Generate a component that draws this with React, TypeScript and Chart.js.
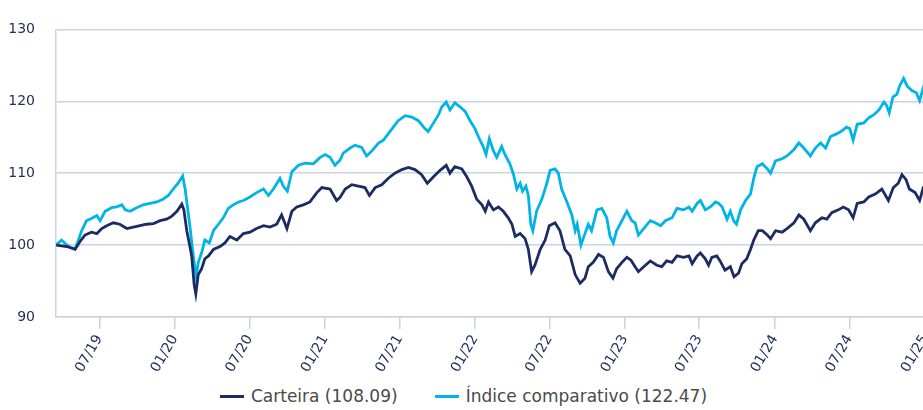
import React, { useEffect, useRef } from "react";
import { Chart, registerables } from "chart.js";

Chart.register(...registerables);

// x values are days since 2019-01-01
const tickDays = [181, 365, 547, 731, 912, 1096, 1277, 1461, 1642, 1826, 2008, 2192];
const tickLabels = ["07/19", "01/20", "07/20", "01/21", "07/21", "01/22", "07/22", "01/23", "07/23", "01/24", "07/24", "01/25"];
const yTicks = [90, 100, 110, 120, 130];

const carteiraDays = [
  76, 102, 122, 134, 146, 162, 175, 187, 199, 215,
  231, 248, 264, 280, 296, 313, 329, 345, 357, 370,
  382, 387, 394, 400, 406, 412, 416, 422, 430, 438,
  447, 459, 475, 487, 499, 516, 532, 548, 564, 581,
  597, 613, 625, 638, 650, 662, 678, 694, 711, 723,
  743, 759, 767, 780, 796, 812, 828, 839, 853, 869,
  885, 901, 918, 934, 950, 966, 980, 995, 1011, 1026,
  1035, 1047, 1064, 1076, 1088, 1100, 1113, 1121, 1129, 1141,
  1153, 1165, 1177, 1186, 1194, 1206, 1218, 1226, 1234, 1242,
  1255, 1267, 1277, 1291, 1303, 1315, 1328, 1340, 1352, 1364,
  1372, 1384, 1397, 1409, 1421, 1432, 1441, 1454, 1466, 1476,
  1486, 1494, 1507, 1523, 1539, 1551, 1563, 1576, 1588, 1604,
  1617, 1625, 1637, 1645, 1657, 1665, 1673, 1685, 1693, 1705,
  1718, 1727, 1738, 1746, 1758, 1767, 1775, 1786, 1796, 1808,
  1816, 1828, 1844, 1856, 1873, 1885, 1897, 1913, 1925, 1941,
  1953, 1965, 1981, 1993, 2006, 2017, 2027, 2043, 2055, 2071,
  2087, 2103, 2115, 2127, 2136, 2146, 2154, 2168, 2179, 2188,
  2191,
];
const carteiraValues = [
  100.0, 99.8, 99.4, 100.5, 101.4, 101.8, 101.6, 102.3, 102.7, 103.1,
  102.9, 102.3, 102.5, 102.7, 102.9, 103.0, 103.4, 103.6, 104.0, 104.7,
  105.7, 104.9, 102.0, 100.3, 98.5, 94.5, 93.2, 95.9, 96.7, 98.1,
  98.5, 99.4, 99.8, 100.3, 101.2, 100.7, 101.6, 101.8, 102.3, 102.7,
  102.5, 102.9, 104.2, 102.3, 104.7, 105.3, 105.6, 106.0, 107.3, 108.0,
  107.8, 106.2, 106.6, 107.8, 108.4, 108.2, 108.0, 106.9, 108.0, 108.4,
  109.3, 110.0, 110.5, 110.8, 110.5, 109.8, 108.6, 109.5, 110.4, 111.1,
  110.0, 110.9, 110.6, 109.5, 108.2, 106.4, 105.6, 104.7, 106.0, 104.9,
  105.3, 104.7, 103.8, 102.9, 101.2, 101.6, 100.9, 99.4, 96.3, 97.2,
  99.4, 100.7, 102.7, 103.1, 102.0, 99.4, 98.5, 95.9, 94.7, 95.4,
  97.0, 97.6, 98.7, 98.3, 96.3, 95.4, 96.7, 97.6, 98.3, 97.9,
  97.0, 96.3, 97.0, 97.8, 97.2, 97.0, 97.8, 97.6, 98.5, 98.3,
  98.5, 97.4, 98.5, 98.9, 98.1, 97.2, 98.3, 98.5, 97.8, 96.5,
  97.0, 95.6, 96.1, 97.4, 98.1, 99.4, 100.7, 102.0, 102.0, 101.4,
  100.9, 102.0, 101.8, 102.3, 103.1, 104.2, 103.6, 102.0, 103.1, 103.8,
  103.6, 104.5, 104.9, 105.3, 104.9, 103.8, 105.8, 106.0, 106.7, 107.1,
  107.8, 106.2, 108.0, 108.6, 109.8, 109.1, 107.8, 107.3, 106.2, 108.0,
  108.09,
];

const indiceDays = [
  76, 89, 102, 110, 122, 130, 138, 150, 162, 175,
  183, 195, 211, 223, 236, 244, 256, 272, 288, 304,
  321, 337, 349, 361, 373, 384, 390, 395, 402, 408,
  414, 417, 422, 430, 438, 449, 459, 471, 483, 495,
  507, 520, 532, 548, 564, 581, 593, 605, 621, 629,
  639, 650, 666, 682, 702, 719, 731, 743, 755, 767,
  775, 792, 804, 820, 832, 845, 861, 873, 885, 897,
  909, 926, 942, 958, 974, 982, 995, 1007, 1015, 1026,
  1035, 1047, 1060, 1072, 1084, 1096, 1104, 1116, 1123, 1131,
  1141, 1149, 1161, 1169, 1181, 1190, 1198, 1206, 1212, 1220,
  1226, 1232, 1237, 1246, 1259, 1271, 1279, 1291, 1299, 1307,
  1320, 1332, 1340, 1345, 1354, 1364, 1372, 1380, 1393, 1405,
  1417, 1425, 1433, 1441, 1454, 1466, 1478, 1486, 1494, 1507,
  1523, 1535, 1548, 1560, 1576, 1588, 1604, 1617, 1625, 1637,
  1645, 1657, 1669, 1682, 1690, 1698, 1710, 1718, 1726, 1733,
  1743, 1755, 1767, 1775, 1783, 1796, 1808, 1816, 1828, 1844,
  1856, 1873, 1885, 1897, 1913, 1925, 1938, 1950, 1962, 1978,
  1990, 2001, 2009, 2017, 2027, 2043, 2055, 2067, 2080, 2092,
  2098, 2105, 2114, 2124, 2130, 2140, 2149, 2160, 2171, 2179,
  2188, 2191,
];
const indiceValues = [
  100.0, 100.7, 100.0, 99.7, 99.5, 100.7, 102.0, 103.4, 103.7, 104.1,
  103.4, 104.7, 105.2, 105.3, 105.6, 104.9, 104.7, 105.2, 105.6, 105.8,
  106.0, 106.4, 106.9, 107.8, 108.6, 109.6, 107.8, 105.6, 102.5, 99.4,
  96.7, 95.6, 97.6, 98.9, 100.7, 100.3, 102.0, 102.9, 103.8, 105.1,
  105.6, 106.0, 106.2, 106.7, 107.3, 107.8, 106.9, 107.8, 109.3, 108.2,
  107.5, 110.2, 111.1, 111.4, 111.3, 112.2, 112.6, 112.2, 111.1, 111.8,
  112.8, 113.5, 113.9, 113.6, 112.4, 113.1, 114.2, 114.6, 115.5, 116.4,
  117.3, 118.0, 117.8, 117.3, 116.2, 115.8, 117.0, 118.1, 119.2, 119.9,
  118.8, 119.8, 119.2, 118.6, 117.3, 116.2, 115.1, 113.7, 112.6, 114.8,
  113.1, 112.2, 113.7, 112.6, 111.3, 109.8, 107.8, 108.6, 107.5, 108.2,
  106.9, 102.9, 102.0, 104.7, 106.4, 108.6, 110.4, 110.6, 110.0, 107.8,
  106.0, 104.2, 102.0, 102.9, 100.0, 101.6, 102.9, 102.0, 104.9, 105.1,
  103.8, 101.2, 100.3, 102.0, 103.4, 104.7, 103.4, 103.1, 101.4, 102.3,
  103.4, 103.1, 102.7, 103.4, 103.8, 105.1, 104.9, 105.3, 104.7, 105.8,
  106.2, 104.9, 105.3, 106.0, 105.8, 105.3, 103.6, 104.7, 103.4, 102.9,
  104.9, 106.2, 107.1, 109.3, 110.9, 111.3, 110.6, 110.0, 111.7, 112.0,
  112.4, 113.3, 114.2, 113.5, 112.4, 113.5, 114.2, 113.5, 115.1, 115.5,
  115.9, 116.4, 116.2, 114.6, 116.8, 117.0, 117.7, 118.1, 118.8, 119.9,
  119.5, 118.4, 120.6, 121.0, 122.1, 123.2, 122.1, 121.5, 121.2, 120.1,
  121.9, 122.47,
];

const seriesLabels = ["Carteira (108.09)", "Índice comparativo (122.47)"];

const NAVY = "#1b2c64";
const CYAN = "#00b4e8";
const GRID = "#c9d3e2";
const AXIS_TEXT = "#1f2d5c";
const LEGEND_TEXT = "#4a4a4a";
const FONT = "'DejaVu Sans', Verdana, sans-serif";
const seriesColors = [NAVY, CYAN];

export default function App() {
  const ref = useRef<HTMLCanvasElement | null>(null);

  useEffect(() => {
    const canvas = ref.current;
    if (!canvas) return;
    const chart = new Chart(canvas, {
      type: "line",
      data: {
        datasets: [
          {
            label: seriesLabels[0],
            data: carteiraDays.map((d, i) => ({ x: d, y: carteiraValues[i] })),
            borderColor: NAVY,
            backgroundColor: NAVY,
            borderWidth: 2.8,
            pointRadius: 0,
            tension: 0,
            fill: false,
          },
          {
            label: seriesLabels[1],
            data: indiceDays.map((d, i) => ({ x: d, y: indiceValues[i] })),
            borderColor: CYAN,
            backgroundColor: CYAN,
            borderWidth: 2.8,
            pointRadius: 0,
            tension: 0,
            fill: false,
          },
        ],
      },
      options: {
        responsive: false,
        maintainAspectRatio: false,
        animation: false,
        layout: { padding: { top: 15, left: 0, right: 0, bottom: 0 } },
        scales: {
          x: {
            type: "linear",
            min: 75.5,
            max: 2197,
            afterBuildTicks: (s: any) => {
              s.ticks = tickDays.map((v) => ({ value: v }));
            },
            afterFit: (s: any) => {
              s.height = 62;
              s.paddingLeft = 0;
              s.paddingRight = 0;
            },
            ticks: {
              autoSkip: false,
              minRotation: 60,
              maxRotation: 60,
              padding: 3,
              color: AXIS_TEXT,
              font: { family: FONT, size: 14 },
              callback: (v: any) => {
                const i = tickDays.indexOf(Number(v));
                return i >= 0 ? tickLabels[i] : "";
              },
            },
            grid: {
              drawOnChartArea: false,
              drawTicks: true,
              tickLength: 12,
              color: GRID,
              lineWidth: 1.5,
            },
            border: { color: GRID, width: 1.5 },
          },
          y: {
            min: 90,
            max: 130,
            afterBuildTicks: (s: any) => {
              s.ticks = yTicks.map((v) => ({ value: v }));
            },
            afterFit: (s: any) => {
              s.width = 56;
            },
            ticks: {
              padding: 21,
              color: AXIS_TEXT,
              font: { family: FONT, size: 14 },
            },
            grid: { color: GRID, lineWidth: 1.5, drawTicks: false },
            border: { color: GRID, width: 1.5 },
          },
        },
        plugins: {
          legend: { display: false },
          tooltip: { enabled: false },
        },
      } as any,
    });
    return () => chart.destroy();
  }, []);

  return (
    <div
      style={{
        position: "fixed",
        left: 0,
        top: 0,
        width: 923,
        height: 410,
        overflow: "hidden",
        background: "#ffffff",
      }}
    >
      <canvas
        ref={ref}
        width={927}
        height={379}
        style={{ display: "block", position: "absolute", left: 0, top: 0 }}
      />
      <div
        style={{
          position: "absolute",
          left: 0,
          top: 386,
          width: 927,
          height: 20,
          display: "flex",
          justifyContent: "center",
          alignItems: "center",
          fontFamily: FONT,
          fontSize: 17,
          color: LEGEND_TEXT,
          whiteSpace: "nowrap",
        }}
      >
        {seriesLabels.map((label, i) => (
          <div
            key={label}
            style={{
              display: "flex",
              alignItems: "center",
              marginLeft: i === 0 ? 0 : 37,
            }}
          >
            <span
              style={{
                display: "inline-block",
                width: 24,
                height: 3,
                background: seriesColors[i],
                marginRight: 7,
              }}
            />
            <span style={{ lineHeight: "20px" }}>{label}</span>
          </div>
        ))}
      </div>
    </div>
  );
}
